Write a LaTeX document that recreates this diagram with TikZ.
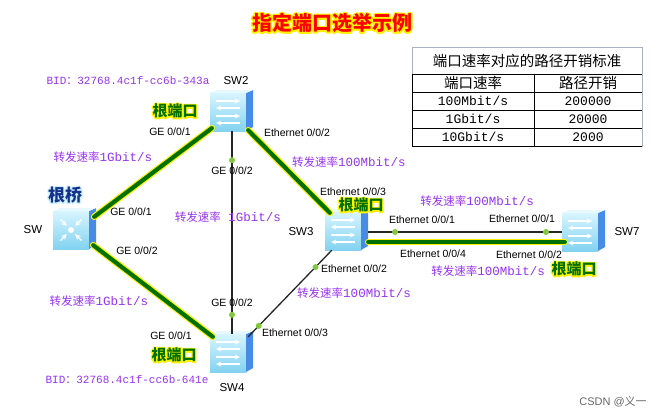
\documentclass[tikz,border=0pt]{standalone}
\usepackage{fontspec}
\setmainfont{Liberation Sans}
\newfontfamily\cjk{Noto Sans CJK SC}
\newfontfamily\mono{Liberation Mono}
\usepackage{xcolor}
\usepackage{tikz}
\usetikzlibrary{
  positioning,
  calc,
  arrows.meta
}
\definecolor{rootgreen}{RGB}{0,112,0}
\definecolor{ratepurple}{RGB}{150,50,240}
\definecolor{dotgreen}{RGB}{130,200,60}
\definecolor{swlight}{RGB}{215,245,255}
\definecolor{swmid}{RGB}{130,210,240}
\definecolor{swside}{RGB}{70,140,230}
\definecolor{bridgeblue}{RGB}{20,50,140}
\definecolor{tablegray}{RGB}{170,175,195}
% 描边光晕
\newcommand\glow[3][2.6]{\leavevmode\rlap{\color{#2}\special{pdf:literal direct #1 w 1 j 1 Tr}#3\special{pdf:literal direct 0 Tr 0.4 w}}#3}
\newcommand\ratelbl[1]{{\cjk\fontsize{11.5}{13}\selectfont 转发速率}{\mono\fontsize{12.5}{13}\selectfont #1}}
\newcommand\bidlbl[1]{{\mono BID}{\cjk ：}{\mono #1}}

\begin{document}
\begin{tikzpicture}[x=1pt,y=-1pt,
  swfront/.style={rectangle,minimum width=36pt,minimum height=38pt,inner sep=0pt,top color=swlight,bottom color=swmid},
  swname/.style={font=\fontsize{11.5}{13}\selectfont,inner sep=0pt},
  port/.style={font=\fontsize{10.5}{12}\selectfont,inner sep=0pt},
  rate/.style={text=ratepurple,inner sep=0pt},
  bid/.style={text=ratepurple,font=\fontsize{11}{12}\selectfont,inner sep=0pt},
  rootport/.style={text=rootgreen,font=\cjk\bfseries\fontsize{15}{16}\selectfont,inner sep=0pt},
  tabtext/.style={font=\cjk\fontsize{14.5}{16}\selectfont,inner sep=0pt},
  tabnum/.style={font=\mono\fontsize{13}{15}\selectfont,inner sep=0pt},
  rootlink/.style={draw=yellow,line width=1.2pt,double=rootgreen,double distance=4.2pt,line cap=round},
  link/.style={draw=black!85,line width=1.3pt},
  portdot/.style={circle,fill=dotgreen,inner sep=0pt,minimum size=6pt},
  l2switch/.pic={
    \fill[swside] (18,-19) -- (25,-22) -- (25,15) -- (18,19) -- cycle;
    \fill[swlight!60!white] (-18,-19) -- (-11,-22) -- (25,-22) -- (18,-19) -- cycle;
    \foreach \yy/\tip in {-11/->,-4/<-,4/->,11/<-}
      \draw[white,line width=1.3pt,\tip,>=stealth] (-12,\yy) -- (12,\yy);
  },
  l3switch/.pic={
    \fill[swside] (18,-19) -- (25,-22) -- (25,15) -- (18,19) -- cycle;
    \fill[swlight!60!white] (-18,-19) -- (-11,-22) -- (25,-22) -- (18,-19) -- cycle;
    \foreach \a in {45,135,225,315}
      \draw[white,line width=1.4pt,->,>=stealth] (\a:15) -- (\a:6);
    \fill[white] (0,0) circle (3);
  }
]
  \useasboundingbox (0,0) rectangle (663,417);
  % 标题
  \node[text=red,font=\cjk\bfseries\fontsize{20}{22}\selectfont,inner sep=0pt] (title) at (332,23)
    {\glow[3.2]{yellow}{指定端口选举示例}};
  % 路径开销表
  \draw[tablegray] (412,47) rectangle (642,146);
  \foreach \yy in {74,92,110,128,146}
    \draw (412,\yy) -- (642,\yy);
  \draw (412,74) -- (412,146);
  \draw (534,74) -- (534,146);
  \node[tabtext] (tabhead) at (527,61) {端口速率对应的路径开销标准};
  \node[tabtext] (tabspeed) at (473,83) {端口速率};
  \node[tabtext] (tabcost) at (588,83) {路径开销};
  \foreach \sp/\cost [count=\i] in {{100Mbit/s}/200000,{1Gbit/s}/20000,{10Gbit/s}/2000}{
    \node[tabnum] (sp\i) at (473,83+18*\i) {\sp};
    \node[tabnum] (cost\i) at (588,83+18*\i) {\cost};
  }
  % 交换机
  \node[swfront] (sw) at (71,230) {};
  \pic at (sw) {l3switch};
  \node[swfront] (sw2) at (228,112) {};
  \pic at (sw2) {l2switch};
  \node[swfront] (sw3) at (343,231) {};
  \pic at (sw3) {l2switch};
  \node[swfront] (sw7) at (580,232) {};
  \pic at (sw7) {l2switch};
  \node[swfront] (sw4) at (228,353) {};
  \pic at (sw4) {l2switch};
  % 链路
  \draw[link] ([xshift=4pt]sw2.south) -- node[portdot,pos=0.143] (d1) {} node[portdot,pos=0.906] (d2) {} ([xshift=4pt]sw4.north);
  \draw[link] ([shift={(7,1)}]sw3.east) -- node[portdot,pos=0.139] (d3) {} node[portdot,pos=0.918] (d4) {} (sw7.west);
  \draw[link] ([shift={(7,0)}]sw3.south west) -- node[portdot,pos=0.195] (d5) {} node[portdot,pos=0.874] (d6) {} ([shift={(2,3)}]sw4.north east);
  \draw[rootlink] ([shift={(5,6)}]sw.north east) -- ([shift={(2,-3)}]sw2.south west);
  \draw[rootlink] ([shift={(4,-4)}]sw.south east) -- ([shift={(3,3)}]sw4.north west);
  \draw[rootlink] ([shift={(2,-1)}]sw2.south east) -- ([shift={(5,1)}]sw3.north west);
  \draw[rootlink] ([shift={(7,11)}]sw3.east) -- ([shift={(3,10)}]sw7.west);
  % 设备名与BID
  \node[swname] (swname) at (33,230) {SW};
  \node[swname] (sw2name) at (236,81) {SW2};
  \node[swname] (sw3name) at (301,232) {SW3};
  \node[swname] (sw7name) at (627,232) {SW7};
  \node[swname] (sw4name) at (232,388) {SW4};
  \node[bid] (bid2) at (128,81) {\bidlbl{32768.4c1f-cc6b-343a}};
  \node[bid] (bid4) at (127,380) {\bidlbl{32768.4c1f-cc6b-641e}};
  \node[text=bridgeblue,font=\cjk\bfseries\fontsize{17}{19}\selectfont,inner sep=0pt] (bridge) at (65,195)
    {\glow{cyan!20}{根桥}};
  % 端口
  \node[port] (p21) at (170,132) {GE 0/0/1};
  \node[port] (p22) at (232,171) {GE 0/0/2};
  \node[port] (p2e) at (297,133) {Ethernet 0/0/2};
  \node[port] (p01) at (131,212) {GE 0/0/1};
  \node[port] (p02) at (137,251) {GE 0/0/2};
  \node[port] (p33) at (353,192) {Ethernet 0/0/3};
  \node[port] (p31) at (422,220) {Ethernet 0/0/1};
  \node[port] (p34) at (433,254) {Ethernet 0/0/4};
  \node[port] (p32) at (354,269) {Ethernet 0/0/2};
  \node[port] (p71) at (522,219) {Ethernet 0/0/1};
  \node[port] (p72) at (529,255) {Ethernet 0/0/2};
  \node[port] (p42) at (232,303) {GE 0/0/2};
  \node[port] (p41) at (171,336) {GE 0/0/1};
  \node[port] (p43) at (295,333) {Ethernet 0/0/3};
  % 根端口
  \node[rootport] (rp2) at (175,111) {\glow{yellow}{根端口}};
  \node[rootport] (rp3) at (361,205) {\glow{yellow}{根端口}};
  \node[rootport] (rp7) at (574,269) {\glow{yellow}{根端口}};
  \node[rootport] (rp4) at (174,355) {\glow{yellow}{根端口}};
  % 转发速率
  \node[rate] (r02) at (103,157) {\ratelbl{1Gbit/s}};
  \node[rate] (r04) at (99,301) {\ratelbl{1Gbit/s}};
  \node[rate] (r24) at (228,217) {\ratelbl{\ 1Gbit/s}};
  \node[rate] (r23) at (349,162) {\ratelbl{100Mbit/s}};
  \node[rate] (r37a) at (477,201) {\ratelbl{100Mbit/s}};
  \node[rate] (r37b) at (488,271) {\ratelbl{100Mbit/s}};
  \node[rate] (r34) at (354,293) {\ratelbl{100Mbit/s}};
  \node[text=black!60,font=\fontsize{11}{12}\selectfont,inner sep=0pt] (csdn) at (613,402) {CSDN @{\cjk 义一}};
\end{tikzpicture}
\end{document}
